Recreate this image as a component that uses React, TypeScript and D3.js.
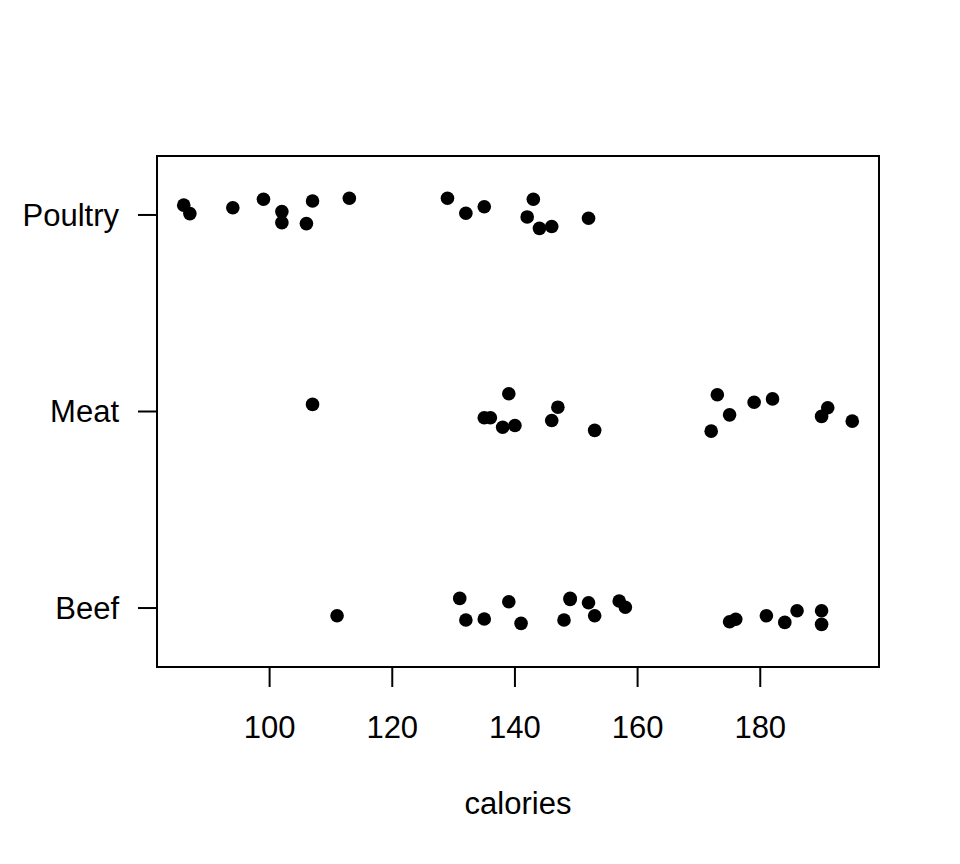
import React from 'react';
import * as d3 from 'd3';

// stripchart of hot dog calories, method = "jitter"
const categories = ['Beef', 'Meat', 'Poultry'];
const xTicks = [100, 120, 140, 160, 180];

const beefCalories = [111, 131, 132, 135, 139, 141, 149, 149, 148, 152, 153, 157, 158, 175, 176, 181, 184, 186, 190, 190];
const beefJitter = [-0.039, 0.049, -0.061, -0.056, 0.032, -0.078, 0.049, 0.044, -0.061, 0.027, -0.039, 0.036, 0.004, -0.07, -0.057, -0.039, -0.073, -0.014, -0.014, -0.083];

const meatCalories = [107, 139, 135, 136, 138, 140, 147, 146, 153, 173, 175, 172, 179, 182, 191, 190, 195];
const meatJitter = [0.036, 0.09, -0.032, -0.032, -0.08, -0.071, 0.022, -0.046, -0.096, 0.085, -0.017, -0.1, 0.047, 0.064, 0.019, -0.025, -0.049];

const poultryCalories = [86, 87, 94, 99, 102, 102, 107, 106, 113, 129, 132, 135, 143, 142, 144, 146, 152];
const poultryJitter = [0.05, 0.007, 0.037, 0.08, 0.017, -0.039, 0.071, -0.044, 0.085, 0.085, 0.009, 0.042, 0.08, -0.01, -0.068, -0.059, -0.017];

const groups = [
  { name: 'Beef', values: beefCalories, jitter: beefJitter },
  { name: 'Meat', values: meatCalories, jitter: meatJitter },
  { name: 'Poultry', values: poultryCalories, jitter: poultryJitter },
];

const App = () => {
  const width = 960;
  const height = 864;
  const left = 157, right = 879, top = 156, bottom = 667;
  const font = '"Liberation Sans", Arial, sans-serif';
  const fs = 31;

  // R style 4% axis extension
  const all = groups.flatMap(g => g.values);
  const [lo, hi] = d3.extent(all) as [number, number];
  const pad = (hi - lo) * 0.04;
  const x = d3.scaleLinear().domain([lo - pad, hi + pad]).range([left, right]);
  const y = d3.scaleLinear().domain([0.7, categories.length + 0.3]).range([bottom, top]);

  return (
    <svg width={width} height={height} style={{ position: 'absolute', left: 0, top: 0, background: '#fff' }}>
      <rect x={left} y={top} width={right - left} height={bottom - top} fill="none" stroke="#000" strokeWidth={2} />

      {/* x axis */}
      {xTicks.map(t => (
        <g key={t}>
          <line x1={x(t)} x2={x(t)} y1={bottom} y2={bottom + 20} stroke="#000" strokeWidth={2} />
          <text x={x(t)} y={738} textAnchor="middle" fontFamily={font} fontSize={fs}>{t}</text>
        </g>
      ))}
      <text x={(left + right) / 2} y={814} textAnchor="middle" fontFamily={font} fontSize={fs}>calories</text>

      {/* y axis */}
      {categories.map((c, i) => (
        <g key={c}>
          <line x1={left - 19} x2={left} y1={y(i + 1)} y2={y(i + 1)} stroke="#000" strokeWidth={2} />
          <text x={119} y={y(i + 1)} dy="0.35em" textAnchor="end" fontFamily={font} fontSize={fs}>{c}</text>
        </g>
      ))}

      {groups.map((g, gi) =>
        g.values.map((v, i) => (
          <circle key={g.name + i} cx={x(v)} cy={y(gi + 1 + g.jitter[i])} r={6.8} fill="#000" />
        ))
      )}
    </svg>
  );
};

export default App;
